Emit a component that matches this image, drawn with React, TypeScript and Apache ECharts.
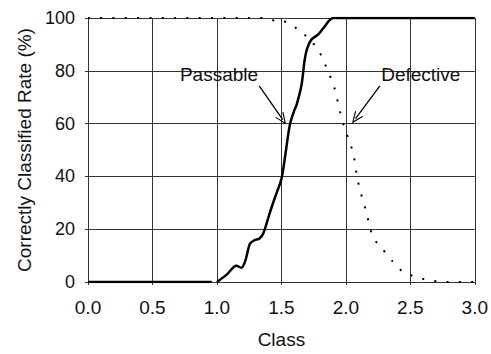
import React, { useEffect, useRef } from "react";
import * as echarts from "echarts";

const xTicks = [0, 0.5, 1.0, 1.5, 2.0, 2.5, 3.0];
const yTicks = [0, 20, 40, 60, 80, 100];

const passable: (number | null)[][] = [
  [0, 0], [0.96, 0], [0.98, null],
  [1.0, 0], [1.08, 3], [1.15, 6.2], [1.19, 5.4], [1.22, 8], [1.256, 14.5],
  [1.29, 15.8], [1.33, 16.5], [1.36, 18.5], [1.41, 26.2], [1.45, 32],
  [1.5, 39], [1.53, 48], [1.566, 59.7], [1.6, 65], [1.618, 67.1],
  [1.656, 74.6], [1.68, 84], [1.7, 88.5], [1.734, 91.9], [1.786, 93.8],
  [1.837, 96.9], [1.87, 99], [1.9, 100], [3.0, 100],
];

const defective: number[][] = [
  [0, 100], [1.4, 100], [1.45, 98.8], [1.54, 98.5], [1.63, 95.6],
  [1.713, 92.2], [1.786, 88.0], [1.829, 83.6], [1.866, 79.3], [1.904, 74.8],
  [1.928, 70.3], [1.948, 65.9], [1.971, 61.3], [2.0, 56.9], [2.034, 52.5],
  [2.06, 48.1], [2.075, 43.6], [2.09, 39], [2.111, 34.6], [2.137, 30.2],
  [2.163, 25.6], [2.184, 21.2], [2.212, 16.7], [2.287, 12.3], [2.362, 7.8],
  [2.447, 3.6], [2.543, 2.0], [2.638, 0.7], [2.73, 0.2], [2.8, 0], [3.0, 0],
];

const annotations = [
  { label: "Passable", text: [1.016, 78.5], from: [1.328, 74.3], to: [1.51, 61.5] },
  { label: "Defective", text: [2.581, 78.5], from: [2.264, 74.3], to: [2.075, 61.9] },
];

const FONT = "Liberation Sans, Arial, sans-serif";
const arrowHead = "path://M0,0 L5,10 L3.8,10 L0,2.4 L-3.8,10 L-5,10 Z";

export default function App() {
  const ref = useRef<HTMLDivElement>(null);
  useEffect(() => {
    document.body.style.margin = "0";
    const chart = echarts.init(ref.current!, undefined, { renderer: "svg" });
    chart.setOption({
      animation: false,
      backgroundColor: "#fff",
      grid: { left: 88, right: 16, top: 18, bottom: 67 },
      xAxis: {
        type: "value",
        min: 0,
        max: 3,
        interval: 0.5,
        name: "Class",
        nameLocation: "middle",
        nameGap: 48,
        nameTextStyle: { fontSize: 19, color: "#111", fontFamily: FONT },
        axisLine: { show: true, lineStyle: { color: "#333", width: 1 } },
        axisTick: { show: true, length: 3, lineStyle: { color: "#333" } },
        axisLabel: {
          fontSize: 19, color: "#111", fontFamily: FONT, margin: 16,
          formatter: (v: number) => (xTicks.includes(v) ? v.toFixed(1) : ""),
        },
        splitLine: { show: true, lineStyle: { color: "#333", width: 1 } },
      },
      yAxis: {
        type: "value",
        min: 0,
        max: 100,
        interval: 20,
        name: "Correctly Classified Rate (%)",
        nameLocation: "middle",
        nameGap: 53,
        nameTextStyle: { fontSize: 19, color: "#111", fontFamily: FONT },
        axisLine: { show: true, lineStyle: { color: "#333", width: 1 } },
        axisTick: { show: true, length: 3, lineStyle: { color: "#333" } },
        axisLabel: {
          fontSize: 18, color: "#111", fontFamily: FONT, margin: 13,
          formatter: (v: number) => (yTicks.includes(v) ? String(v) : ""),
        },
        splitLine: { show: true, lineStyle: { color: "#333", width: 1 } },
      },
      series: [
        {
          name: "Passable",
          type: "line",
          data: passable,
          showSymbol: false,
          smooth: 0.3,
          connectNulls: false,
          lineStyle: { color: "#000", width: 2.5 },
          markLine: {
            silent: true,
            symbol: ["none", arrowHead],
            symbolSize: [10, 12],
            label: { show: false },
            lineStyle: { color: "#000", width: 1.3, type: "solid" },
            data: annotations.map((a) => [
              { coord: a.from },
              { coord: a.to },
            ]),
          },
          markPoint: {
            silent: true,
            symbol: "circle",
            symbolSize: 0,
            data: annotations.map((a) => ({
              coord: a.text,
              label: {
                show: true,
                formatter: a.label,
                position: "inside",
                fontSize: 19,
                color: "#111",
                fontFamily: FONT,
              },
            })),
          },
        },
        {
          name: "Defective",
          type: "line",
          data: defective,
          showSymbol: false,
          smooth: 0.2,
          lineStyle: { color: "#000", width: 2, type: [2, 10.3], cap: "butt" },
        },
      ],
    });
    return () => chart.dispose();
  }, []);
  return <div ref={ref} style={{ width: 491, height: 354 }} />;
}
